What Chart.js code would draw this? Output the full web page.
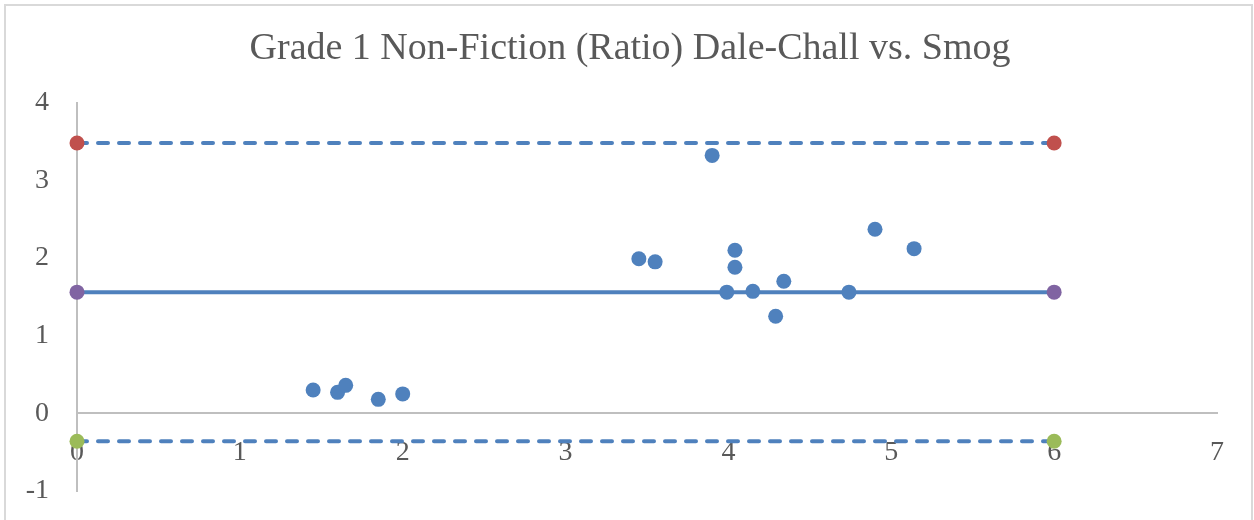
<!DOCTYPE html>
<html>
<head>
<meta charset="utf-8">
<script src="https://cdn.jsdelivr.net/npm/chart.js@4/dist/chart.umd.min.js"></script>
<style>
  html, body { margin: 0; padding: 0; background: #fff; overflow: hidden; }
  #wrap { position: relative; width: 1254px; height: 520px; }
  #frame { position: absolute; left: 4px; top: 4px; width: 1249px; height: 600px; box-sizing: border-box; border: 2px solid #d9d9d9; }
  #myChart { position: absolute; left: 0; top: 0; }
</style>
</head>
<body>
<div id="wrap">
  <div id="frame"></div>
  <canvas id="myChart" width="1254" height="520"></canvas>
</div>
<script>
'use strict';

// readings
const titleText = 'Grade 1 Non-Fiction (Ratio) Dale-Chall vs. Smog';
const pointX = [1.45, 1.6, 1.65, 1.85, 2.0, 3.45, 3.55, 3.9, 3.99, 4.04, 4.04, 4.15, 4.29, 4.34, 4.74, 4.9, 5.14];
const pointY = [0.30, 0.27, 0.36, 0.18, 0.25, 1.99, 1.95, 3.32, 1.56, 2.10, 1.88, 1.57, 1.25, 1.70, 1.56, 2.37, 2.12];
const lineX = [0, 6];
const meanY = 1.56;
const upperY = 3.48;
const lowerY = -0.36;
const xTicks = [0, 1, 2, 3, 4, 5, 6, 7];
const yTicks = [-1, 0, 1, 2, 3, 4];

const blue = '#4f81bd';
const textGrey = '#595959';
const axisGrey = '#bfbfbf';

const progressChart = document.getElementById('myChart');

function flatLine(yVal){
  return lineX.map(x => ({x: x, y: yVal}));
}

// fixed box sizes, no extra label padding from the scales
function fixBox(w, h){
  return scale => {
    if (w !== null) scale.width = w;
    if (h !== null) scale.height = h;
    scale.paddingTop = 0;
    scale.paddingBottom = 0;
    scale.paddingLeft = 0;
    scale.paddingRight = 0;
  };
}

function drawChart(){
  const points = pointX.map((x, i) => ({x: x, y: pointY[i]}));
  return new Chart(progressChart, {
    type: 'scatter',
    data: {
      datasets: [{
        label: 'Ratio',
        data: points,
        pointRadius: 7.5,
        pointBackgroundColor: blue,
        pointBorderWidth: 0,
        showLine: false,
        clip: false,
      },{
        label: 'Mean',
        data: flatLine(meanY),
        showLine: true,
        borderColor: blue,
        borderWidth: 4,
        pointRadius: 7.5,
        pointBorderWidth: 0,
        pointBackgroundColor: '#8064a2',
        clip: false,
      },{
        label: 'Upper',
        data: flatLine(upperY),
        showLine: true,
        borderColor: blue,
        borderWidth: 4,
        borderDash: [10, 11],
        borderCapStyle: 'round',
        pointRadius: 7.5,
        pointBorderWidth: 0,
        pointBackgroundColor: '#c0504d',
        clip: false,
      },{
        label: 'Lower',
        data: flatLine(lowerY),
        showLine: true,
        borderColor: blue,
        borderWidth: 4,
        borderDash: [10, 11],
        borderCapStyle: 'round',
        pointRadius: 7.5,
        pointBorderWidth: 0,
        pointBackgroundColor: '#9bbb59',
        clip: false,
      }]
    },
    options: {
      responsive: false,
      animation: false,
      events: [],
      layout: {
        padding: {top: 0, left: 6, right: 0, bottom: 29},
      },
      plugins: {
        legend: {display: false},
        tooltip: {enabled: false},
        title: {
          display: true,
          text: titleText,
          color: textGrey,
          font: {family: 'Liberation Serif', size: 38, weight: 'normal', lineHeight: 1.2},
          padding: {top: 26, bottom: 31},
        },
      },
      scales: {
        x: {
          type: 'linear',
          position: {y: 0},
          min: xTicks[0],
          max: xTicks[xTicks.length - 1],
          z: 1,
          afterFit: fixBox(null, 0),
          afterBuildTicks: scale => { scale.ticks = xTicks.map(v => ({value: v})); },
          grid: {display: true, drawOnChartArea: false, drawTicks: false},
          border: {display: true, color: axisGrey, width: 2},
          ticks: {
            color: textGrey,
            padding: 23,
            font: {family: 'Liberation Serif', size: 28},
          },
        },
        y: {
          type: 'linear',
          position: 'left',
          min: yTicks[0],
          max: yTicks[yTicks.length - 1],
          afterFit: fixBox(71, null),
          afterBuildTicks: scale => { scale.ticks = yTicks.map(v => ({value: v})); },
          grid: {display: true, drawOnChartArea: false, drawTicks: false},
          border: {display: true, color: axisGrey, width: 2},
          ticks: {
            color: textGrey,
            padding: 28,
            font: {family: 'Liberation Serif', size: 28},
          },
        },
        // empty right gutter so the title centres over the whole frame
        gutter: {
          type: 'linear',
          axis: 'y',
          position: 'right',
          afterFit: fixBox(37, null),
          grid: {display: false},
          border: {display: false},
          ticks: {display: false},
        }
      }
    }
  });
}

drawChart();
</script>
</body>
</html>
